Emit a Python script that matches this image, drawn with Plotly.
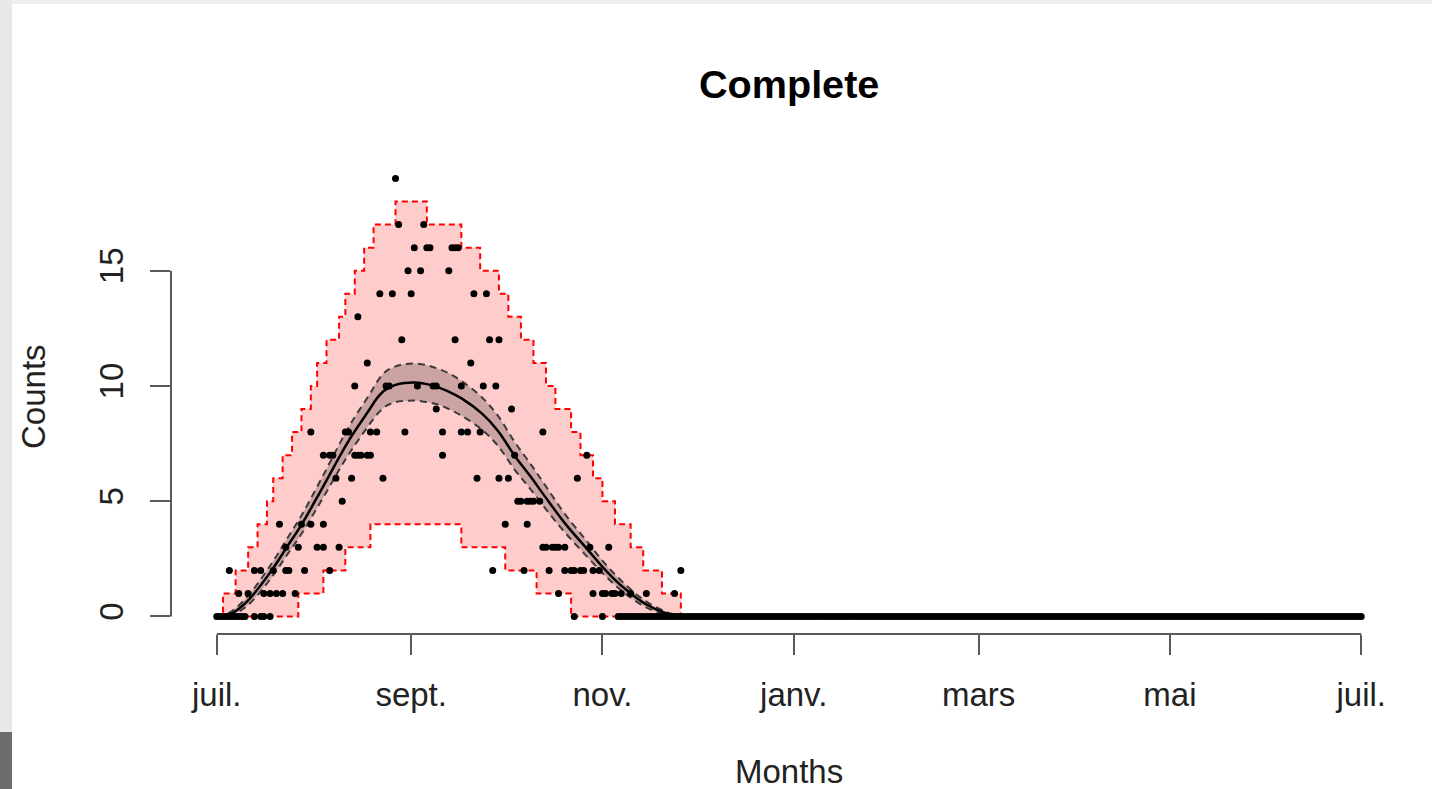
import pandas as pd
import plotly.graph_objects as go

# ---------------- data ----------------
base_date = "2013-07-01"
tick_dates = ["2013-07-01", "2013-09-01", "2013-11-01", "2014-01-01",
              "2014-03-01", "2014-05-01", "2014-07-01"]
tick_labels = ["juil.", "sept.", "nov.", "janv.", "mars", "mai", "juil."]
y_ticks = [0, 5, 10, 15]

# observed daily counts (day offset from 1 July, count)
pt_days = [0, 1, 2, 3, 4, 5, 6, 7, 8, 9, 12, 14, 15, 17, 114, 123,
           7, 10, 15, 17, 19, 21, 25, 109, 120, 123, 124, 126, 127, 129, 132, 137, 146,
           4, 12, 14, 18, 22, 23, 28, 36, 88, 98, 106, 111, 113, 114, 116, 117, 120, 122, 148,
           22, 26, 32, 34, 39, 104, 105, 107, 108, 109, 111, 119, 125,
           20, 27, 30, 34, 92, 99,
           40, 96, 97, 99, 100, 101, 103,
           38, 43, 53, 83, 90, 93, 115,
           34, 36, 37, 44, 45, 46, 48, 49, 72, 95, 118,
           30, 41, 42, 49, 51, 60, 72, 78, 80, 84, 104,
           70, 94,
           44, 54, 55, 64, 69, 70, 78, 85, 89,
           48, 81,
           59, 76, 87, 90,
           45,
           52, 56, 62, 82, 86,
           61, 65, 74,
           63, 67, 68, 75, 76, 77,
           58, 66,
           57]
pt_counts = [0] * 16 + [1] * 17 + [2] * 19 + [3] * 13 + [4] * 6 + [5] * 7 + [6] * 7 \
    + [7] * 11 + [8] * 11 + [9] * 2 + [10] * 9 + [11] * 2 + [12] * 4 + [13] * 1 \
    + [14] * 5 + [15] * 3 + [16] * 6 + [17] * 2 + [19] * 1
# every day from 128 to 365 shows a zero count
zero_tail_first_day = 128
zero_tail_last_day = 365

# prediction interval (step function)
upper_days = [0, 2, 6, 10, 13, 16, 18, 21, 24, 27, 30, 32, 35, 39, 41, 44, 47, 50, 57,
              67, 78, 84, 90, 93, 97, 101, 105, 108, 113, 116, 120, 123, 127, 132, 136,
              142, 148, 365]
upper_vals = [0, 1, 2, 3, 4, 5, 6, 7, 8, 9, 10, 11, 12, 13, 14, 15, 16, 17, 18,
              17, 16, 15, 14, 13, 12, 11, 10, 9, 8, 7, 6, 5, 4, 3, 2, 1, 0, 0]
lower_days = [0, 26, 34, 41, 49, 78, 92, 102, 113, 365]
lower_vals = [0, 1, 2, 3, 4, 3, 2, 1, 0, 0]

# fitted mean and its confidence band
curve_days = [0, 2, 5, 10, 17.5, 22.3, 27.1, 31.3, 35.4, 39.2, 43.1, 48.8, 51, 53.6, 57,
              60, 63.2, 67, 70.5, 74, 78.2, 84.6, 89.7, 95.1, 99.9, 104.7, 111, 118.4,
              124.4, 130.2, 136.6, 143, 147.1, 150]
curve_mean = [0, 0.02, 0.15, 0.7, 2.0, 3.0, 4.0, 5.0, 6.0, 6.95, 7.85, 9.0, 9.45, 9.82,
              10.05, 10.13, 10.15, 10.08, 9.95, 9.75, 9.45, 8.8, 8.05, 6.95, 6.1, 5.2,
              4.05, 2.88, 1.95, 1.2, 0.55, 0.15, 0.02, 0.0]
curve_hi = [0, 0.05, 0.25, 0.9, 2.3, 3.35, 4.4, 5.45, 6.5, 7.5, 8.45, 9.65, 10.15, 10.6,
            10.85, 10.95, 10.97, 10.9, 10.75, 10.55, 10.2, 9.5, 8.7, 7.55, 6.65, 5.7,
            4.45, 3.2, 2.2, 1.4, 0.68, 0.22, 0.05, 0.0]
curve_lo = [0, 0.01, 0.08, 0.5, 1.7, 2.65, 3.6, 4.55, 5.5, 6.4, 7.25, 8.35, 8.75, 9.1,
            9.3, 9.35, 9.37, 9.3, 9.2, 9.0, 8.7, 8.1, 7.4, 6.35, 5.55, 4.7, 3.65, 2.55,
            1.7, 1.0, 0.42, 0.08, 0.0, 0.0]

# ---------------- helpers ----------------
base = pd.Timestamp(base_date)


def to_date(days):
    return [base + pd.Timedelta(days=float(d)) for d in days]


all_days = pt_days + list(range(zero_tail_first_day, zero_tail_last_day + 1))
all_counts = pt_counts + [0] * (zero_tail_last_day - zero_tail_first_day + 1)

FONT = "Liberation Sans, Arial, Helvetica, sans-serif"
W, H = 1432, 789
ML, MR, MT, MB = 171, 25, 161, 155
PW, PH = W - ML - MR, H - MT - MB


def px2x(px):
    return (px - ML) / PW


def py2y(py):
    return (H - MB - py) / PH


fig = go.Figure()

# prediction interval
fig.add_trace(go.Scatter(x=to_date(lower_days), y=lower_vals, mode="lines",
                         line=dict(color="#ff0000", width=2, dash="6px,4px", shape="hv"),
                         hoverinfo="skip", showlegend=False))
fig.add_trace(go.Scatter(x=to_date(upper_days), y=upper_vals, mode="lines",
                         line=dict(color="#ff0000", width=2, dash="6px,4px", shape="hv"),
                         fill="tonexty", fillcolor="rgba(255,0,0,0.2)",
                         hoverinfo="skip", showlegend=False))
# confidence band of the mean
fig.add_trace(go.Scatter(x=to_date(curve_days), y=curve_lo, mode="lines",
                         line=dict(color="#3a3a3a", width=2, dash="7px,5px",
                                   shape="spline", smoothing=1.0),
                         hoverinfo="skip", showlegend=False))
fig.add_trace(go.Scatter(x=to_date(curve_days), y=curve_hi, mode="lines",
                         line=dict(color="#3a3a3a", width=2, dash="7px,5px",
                                   shape="spline", smoothing=1.0),
                         fill="tonexty", fillcolor="rgba(0,0,0,0.2)",
                         hoverinfo="skip", showlegend=False))
fig.add_trace(go.Scatter(x=to_date(curve_days), y=curve_mean, mode="lines",
                         line=dict(color="#000000", width=2.5, shape="spline", smoothing=1.0),
                         hoverinfo="skip", showlegend=False))
# observed points
fig.add_trace(go.Scatter(x=to_date(all_days), y=all_counts, mode="markers",
                         marker=dict(color="#000000", size=7, symbol="circle",
                                     line=dict(width=0)),
                         hoverinfo="skip", showlegend=False))

x_min, x_max = 0, 365
x_pad = 0.04 * (x_max - x_min)
y_max = max(all_counts)
y_pad = 0.04 * y_max

axis_col = "#5a5a5a"
text_col = "#222222"

fig.update_xaxes(type="date",
                 range=[base + pd.Timedelta(days=x_min - x_pad), base + pd.Timedelta(days=x_max + x_pad)],
                 tickvals=tick_dates, ticktext=tick_labels,
                 ticks="outside", ticklen=20, tickwidth=2, tickcolor=axis_col,
                 showgrid=False, zeroline=False, showline=False,
                 tickfont=dict(family=FONT, size=33, color=text_col),
                 ticklabelstandoff=11)
fig.update_yaxes(range=[-y_pad, y_max + y_pad],
                 tickvals=y_ticks, ticktext=[str(v) for v in y_ticks],
                 ticks="outside", ticklen=20, tickwidth=2, tickcolor=axis_col,
                 showgrid=False, zeroline=False, showline=False, tickangle=-90,
                 tickfont=dict(family=FONT, size=33, color=text_col),
                 ticklabelstandoff=14)

shapes = [
    # R-style axis lines spanning only the tick range
    dict(type="line", xref="x", yref="paper", x0=tick_dates[0], x1=tick_dates[-1],
         y0=0, y1=0, line=dict(color=axis_col, width=2)),
    dict(type="line", xref="paper", yref="y", x0=0, x1=0, y0=y_ticks[0], y1=y_ticks[-1],
         line=dict(color=axis_col, width=2)),
    # screenshot frame
    dict(type="rect", xref="paper", yref="paper", x0=px2x(0), x1=px2x(W),
         y0=py2y(0), y1=py2y(4), fillcolor="#eeeeee", line=dict(width=0), layer="above"),
    dict(type="rect", xref="paper", yref="paper", x0=px2x(0), x1=px2x(12),
         y0=py2y(0), y1=py2y(732), fillcolor="#e8e8ea", line=dict(width=0), layer="above"),
    dict(type="rect", xref="paper", yref="paper", x0=px2x(0), x1=px2x(12),
         y0=py2y(732), y1=py2y(H), fillcolor="#6c6c6c", line=dict(width=0), layer="above"),
]

annotations = [
    dict(text="<b>Complete</b>", xref="paper", yref="paper", x=0.5, y=py2y(84),
         xanchor="center", yanchor="middle", showarrow=False,
         font=dict(family=FONT, size=39.6, color="#000000")),
    dict(text="Months", xref="paper", yref="paper", x=0.5, y=py2y(771),
         xanchor="center", yanchor="middle", showarrow=False,
         font=dict(family=FONT, size=33, color=text_col)),
    dict(text="Counts", xref="paper", yref="paper", x=px2x(33), y=py2y(397),
         xanchor="center", yanchor="middle", showarrow=False, textangle=-90,
         font=dict(family=FONT, size=33, color=text_col)),
]

fig.update_layout(width=W, height=H,
                  margin=dict(l=ML, r=MR, t=MT, b=MB, pad=0),
                  paper_bgcolor="#ffffff", plot_bgcolor="#ffffff",
                  shapes=shapes, annotations=annotations, showlegend=False)

fig.write_html("out.html")
